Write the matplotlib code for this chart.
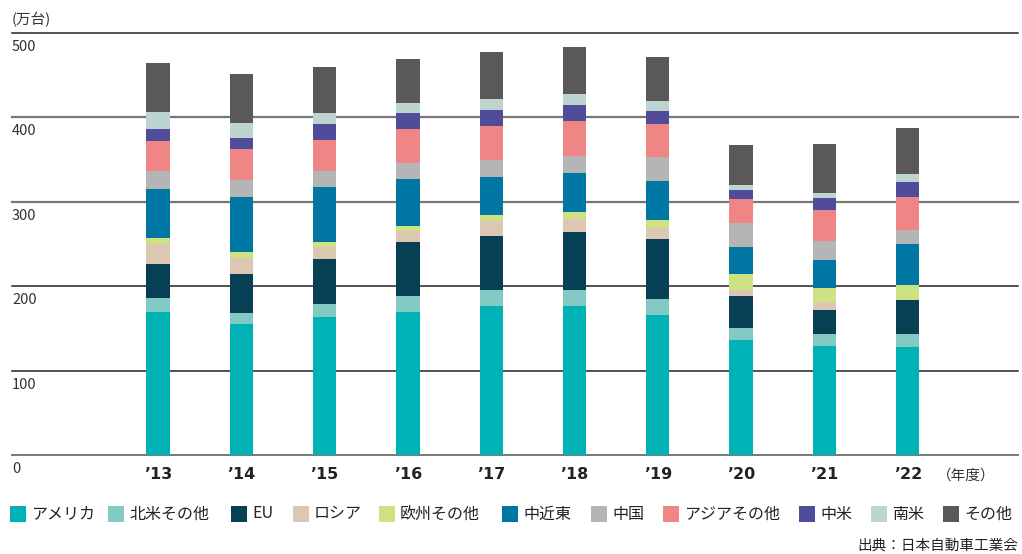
import matplotlib
matplotlib.use("Agg")
import matplotlib.pyplot as plt
from matplotlib.patches import Rectangle

plt.rcParams['font.family'] = ['Noto Sans CJK JP', 'DejaVu Sans']

years = ["’13", "’14", "’15", "’16", "’17", "’18", "’19", "’20", "’21", "’22"]
categories = ["アメリカ", "北米その他", "EU", "ロシア", "欧州その他", "中近東",
              "中国", "アジアその他", "中米", "南米", "その他"]

america     = [170, 155, 163, 170, 176, 176, 166, 136, 129, 128]
na_other    = [16, 13, 16, 18, 20, 19, 19, 14, 14, 15]
eu          = [40, 46, 53, 64, 64, 69, 71, 38, 29, 41]
russia      = [24, 20, 14, 13, 17, 16, 13, 8, 9, 0]
eu_other    = [7.5, 7, 6, 6, 7, 8, 10, 19, 17, 18]
middle_east = [58, 65, 66, 56, 45, 46, 46, 31, 33, 48]
china       = [21, 20, 19, 19, 21, 20, 28, 29, 23, 17]
asia_other  = [35, 36, 36, 40, 40, 42, 39, 28, 36, 39]
central_am  = [15, 14, 19, 19, 19, 19, 16, 11, 14, 17]
south_am    = [20, 17, 13, 12, 13, 13, 11, 6, 7, 10]
others      = [58, 58, 55, 52, 56, 55, 53, 47, 57, 54]

series = [america, na_other, eu, russia, eu_other, middle_east,
          china, asia_other, central_am, south_am, others]
colors = ["#00B2B5", "#82C8C3", "#073F55", "#DCC8B2", "#CEE183", "#0076A3",
          "#B4B5B5", "#F08585", "#514C9A", "#BDD4D0", "#5A5859"]

yticks = [0, 100, 200, 300, 400, 500]

W, H = 1022, 554
fig = plt.figure(figsize=(W / 100, H / 100), dpi=100)
ax_left, ax_right = 12, 1018
ax_top, ax_bot = 33, 455
ax = fig.add_axes([ax_left / W, 1 - ax_bot / H, (ax_right - ax_left) / W, (ax_bot - ax_top) / H])

x = list(range(len(years)))
spacing = 83.3
first_center = 158
ax.set_xlim((ax_left - first_center) / spacing, (ax_right - first_center) / spacing)
ax.set_ylim(0, 500)

bottom = [0] * len(years)
for vals, col, lab in zip(series, colors, categories):
    ax.bar(x, vals, width=0.28, bottom=bottom, color=col, label=lab, zorder=3, linewidth=0)
    bottom = [b + v for b, v in zip(bottom, vals)]

line_colors = {0: "#777777", 100: "#222222", 200: "#222222", 300: "#777777", 400: "#777777", 500: "#222222"}
line_widths = {0: 1.4, 100: 1.1, 200: 1.1, 300: 1.6, 400: 1.6, 500: 1.1}
for v in yticks:
    ax.axhline(v, color=line_colors[v], lw=line_widths[v], zorder=2, clip_on=False)
    ax.annotate(str(v), xy=(0, v), xycoords=('axes fraction', 'data'), xytext=(0, -5),
                textcoords='offset points', ha='left', va='top', fontsize=10.5, color="#333333")

for s in ax.spines.values():
    s.set_visible(False)
ax.set_xticks([])
ax.set_yticks([])

for xi, lab in zip(x, years):
    ax.annotate(lab, xy=(xi, 0), xycoords='data', xytext=(0, -14), textcoords='offset points',
                ha='center', va='center', fontsize=11.5, fontweight='bold', color="#222222",
                family=['DejaVu Sans'])

fig.text(937 / W, 1 - 476 / H, "（年度）", ha='left', va='center', fontsize=10.5, color="#333333")
fig.text(12 / W, 1 - 20 / H, "(万台)", ha='left', va='center', fontsize=10.5, color="#333333")
fig.text(1018 / W, 1 - 546 / H, "出典：日本自動車工業会", ha='right', va='center', fontsize=10.5, color="#222222")

# legend
leg_x = [10, 108, 231, 293, 379, 502, 591, 663, 799, 871, 943]
leg_y = 514
for lx, col, lab in zip(leg_x, colors, categories):
    fig.patches.append(Rectangle((lx / W, 1 - (leg_y + 8) / H), 16 / W, 16 / H,
                                 transform=fig.transFigure, facecolor=col, edgecolor='none'))
    fig.text((lx + 21) / W, 1 - leg_y / H, lab, ha='left', va='center', fontsize=11.5, color="#222222")

fig.savefig("out.png", dpi=100)
